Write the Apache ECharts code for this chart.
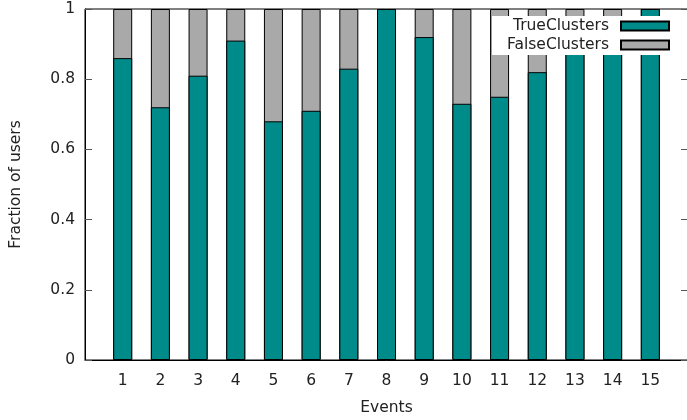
<!DOCTYPE html>
<html>
<head>
<meta charset="utf-8">
<script src="https://cdn.jsdelivr.net/npm/echarts@6/dist/echarts.min.js"></script>
<style>html,body{margin:0;padding:0;background:#fff}#c{width:687px;height:420px}</style>
</head>
<body>
<div id="c"></div>
<script>
var events = [1, 2, 3, 4, 5, 6, 7, 8, 9, 10, 11, 12, 13, 14, 15];
var trueClusters = [0.86, 0.72, 0.81, 0.91, 0.68, 0.71, 0.83, 1.00, 0.92, 0.73, 0.75, 0.82, 0.88, 0.88, 1.00];
var falseClusters = [0.14, 0.28, 0.19, 0.09, 0.32, 0.29, 0.17, 0.00, 0.08, 0.27, 0.25, 0.18, 0.12, 0.12, 0.00];
var yTicks = [0, 0.2, 0.4, 0.6, 0.8, 1];

var FONT = 'DejaVu Sans';
var FS = 15.5;
var chart = echarts.init(document.getElementById('c'), null, {renderer: 'canvas'});
// FalseClusters is stacked on top of TrueClusters: its bar spans from 0 to true+false,
// drawn behind the TrueClusters bar (same slot, barGap -100%).
function truePairs() { return events.map(function (e, i) { return [e, trueClusters[i]]; }); }
function stackedFalsePairs() { return events.map(function (e, i) { return [e, trueClusters[i] + falseClusters[i]]; }); }

chart.setOption({
  animation: false,
  backgroundColor: '#fff',
  textStyle: {fontFamily: FONT},
  grid: {left: 85, top: 9, width: 603, height: 351, outerBoundsMode: 'none', containLabel: false,
    show: true, borderColor: '#000', borderWidth: 1, backgroundColor: 'transparent'},
  legend: {
    orient: 'vertical', right: 0, top: 16, align: 'right',
    padding: [2, 17, 2, 15], itemGap: 3,
    itemWidth: 48, itemHeight: 9, backgroundColor: '#fff',
    icon: 'rect',
    textStyle: {fontFamily: FONT, fontSize: FS, color: '#222', lineHeight: 16, padding: [0, 7, 0, 0]},
    data: ['TrueClusters', 'FalseClusters']
  },
  xAxis: {
    type: 'value', min: 0, max: 16, interval: 1,
    name: 'Events', nameLocation: 'middle', nameGap: 40,
    nameTextStyle: {fontFamily: FONT, fontSize: FS, color: '#222'},
    axisLine: {show: true, lineStyle: {color: '#000', width: 1}},
    axisTick: {show: false},
    splitLine: {show: false},
    axisLabel: {fontFamily: FONT, fontSize: FS, color: '#222', margin: 13,
      formatter: function (v) { return events.indexOf(v) >= 0 ? String(v) : ''; }}
  },
  yAxis: [{
    type: 'value', min: 0, max: 1, interval: 0.2,
    name: 'Fraction of users', nameLocation: 'middle', nameGap: 61,
    nameTextStyle: {fontFamily: FONT, fontSize: FS, color: '#222'},
    axisLine: {show: true, lineStyle: {color: '#000', width: 1}},
    axisTick: {show: true, inside: true, length: 7, lineStyle: {color: '#555'}},
    splitLine: {show: false},
    axisLabel: {fontFamily: FONT, fontSize: FS, color: '#222', margin: 10,
      formatter: function (v) { var t = yTicks.filter(function (k) { return Math.abs(k - v) < 1e-9; }); return t.length ? String(t[0]) : ''; }}
  }, {
    type: 'value', min: 0, max: 1, interval: 0.2, position: 'right',
    axisLine: {show: false},
    axisTick: {show: true, inside: true, length: 7, lineStyle: {color: '#555'}},
    axisLabel: {show: false}, splitLine: {show: false}
  }],
  series: [{
    name: 'FalseClusters', type: 'bar', barWidth: 19, barGap: '-100%', z: 2,
    itemStyle: {color: '#a9a9a9', borderColor: '#000', borderWidth: 1},
    data: stackedFalsePairs()
  }, {
    name: 'TrueClusters', type: 'bar', barWidth: 19, barGap: '-100%', z: 3,
    itemStyle: {color: '#008b8b', borderColor: '#000', borderWidth: 1},
    data: truePairs()
  }]
});
</script>
</body>
</html>
